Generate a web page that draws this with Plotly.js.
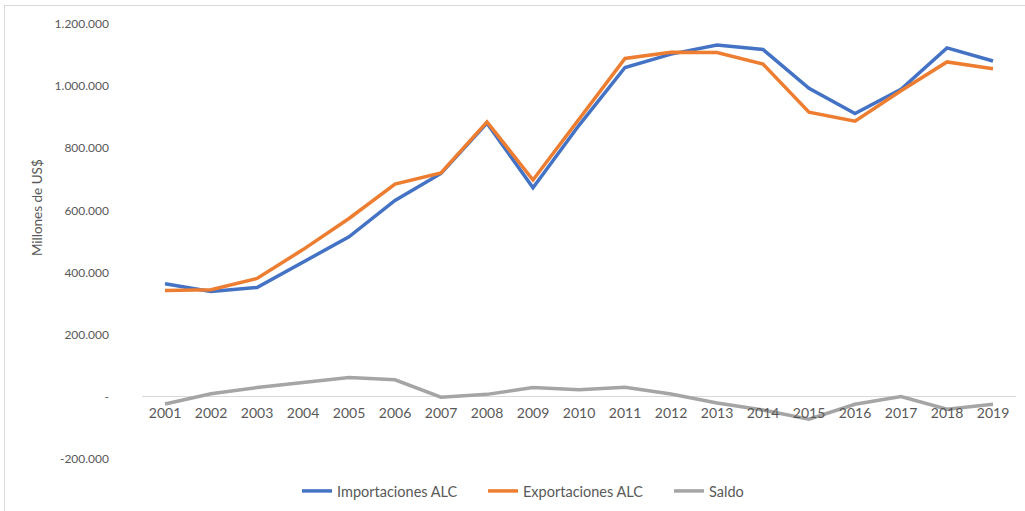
<!DOCTYPE html>
<html>
<head>
<meta charset="utf-8">
<script src="https://cdn.plot.ly/plotly-3.0.1.min.js"></script>
<style>
html,body{margin:0;padding:0;overflow:hidden;background:#fff;}
#frame{position:absolute;left:4px;top:5px;width:1100px;height:600px;border:1px solid #d9d9d9;pointer-events:none;}
#chart{position:absolute;left:0;top:0;width:1025px;height:511px;}
</style>
</head>
<body>
<div id="chart"></div>
<div id="frame"></div>
<script>
const years = ['2001','2002','2003','2004','2005','2006','2007','2008','2009','2010','2011','2012','2013','2014','2015','2016','2017','2018','2019'];
const importaciones = [364000, 339000, 352000, 434000, 515000, 632000, 719000, 881000, 673000, 874000, 1060000, 1103000, 1132000, 1118000, 993000, 912000, 990000, 1123000, 1081000];
const exportaciones = [342000, 345000, 381000, 474000, 574000, 685000, 721000, 885000, 698000, 893000, 1089000, 1109000, 1108000, 1071000, 916000, 887000, 985000, 1078000, 1056000];
const saldo = [-23000, 10000, 30000, 46000, 62000, 55000, -1000, 8000, 30000, 23000, 31000, 9000, -20000, -42000, -72000, -24000, 1000, -40000, -24000];
const yTickVals = [-200000, 0, 200000, 400000, 600000, 800000, 1000000, 1200000];
const yTickText = ['-200.000', '-', '200.000', '400.000', '600.000', '800.000', '1.000.000', '1.200.000'];

const font = 'Lato, "Open Sans", sans-serif';
const traces = [
  {x: years, y: importaciones, name: 'Importaciones ALC', type: 'scatter', mode: 'lines', line: {color: '#4472C4', width: 3.5}},
  {x: years, y: exportaciones, name: 'Exportaciones ALC', type: 'scatter', mode: 'lines', line: {color: '#ED7D31', width: 3.5}},
  {x: years, y: saldo, name: 'Saldo', type: 'scatter', mode: 'lines', line: {color: '#A5A5A5', width: 3.5}}
];
const plotH = 511 - 24 - 52;
const layout = {
  width: 1025, height: 511,
  margin: {l: 142, r: 9, t: 24, b: 52},
  paper_bgcolor: 'rgba(0,0,0,0)', plot_bgcolor: 'rgba(0,0,0,0)',
  font: {family: font, color: '#595959'},
  showlegend: true,
  legend: {orientation: 'h', xref: 'container', yref: 'container', x: 297 / 1025, xanchor: 'left',
           y: (511 - 491) / 511, yanchor: 'middle',
           font: {size: 14.5, color: '#595959', family: font}, traceorder: 'normal', itemwidth: 30,
           entrywidth: 141, entrywidthmode: 'pixels'},
  xaxis: {
    type: 'category', range: [-0.5, 18.5], anchor: 'free', position: 1/7,
    showline: false, showgrid: false, zeroline: false, ticks: '', ticklabelstandoff: 6,
    tickfont: {size: 14, color: '#595959', family: font}, fixedrange: true, automargin: false
  },
  yaxis: {
    range: [-200000, 1200000], tickvals: yTickVals, ticktext: yTickText,
    showgrid: false, zeroline: true, zerolinecolor: '#d9d9d9', zerolinewidth: 1,
    showline: false, ticks: '', ticklabelstandoff: 32,
    tickfont: {size: 12, color: '#595959', family: font},
    automargin: false, fixedrange: true
  },
  annotations: [{
    text: 'Millones de US$', textangle: -90, xref: 'paper', yref: 'paper',
    x: -0.12, y: (459 - 208) / plotH, xanchor: 'center', yanchor: 'middle', showarrow: false,
    font: {size: 13.5, color: '#595959', family: font}
  }]
};
Plotly.newPlot('chart', traces, layout, {displayModeBar: false, staticPlot: true});
</script>
</body>
</html>
